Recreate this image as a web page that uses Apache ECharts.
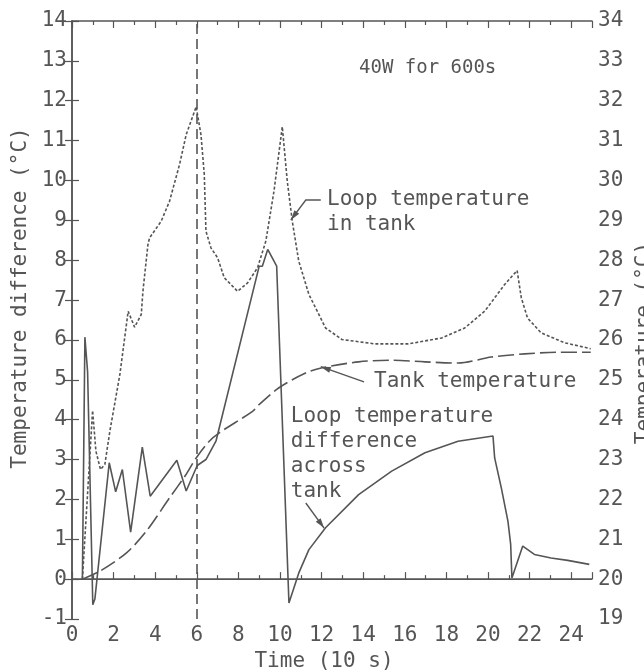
<!DOCTYPE html>
<html>
<head>
<meta charset="utf-8">
<script src="https://cdn.jsdelivr.net/npm/echarts@6/dist/echarts.min.js"></script>
<style>
  html, body { margin: 0; padding: 0; background: #ffffff; }
  #chart { width: 644px; height: 672px; }
</style>
</head>
<body>
<div id="chart"></div>
<script>
// ---- Data ----
// Time axis in units of 10 s
const timeRange = [0, 25];
const diffRange = [-1, 14];      // left axis, temperature difference (°C)
const tempRange = [19, 34];      // right axis, temperature (°C)
const heatOffTime = 6;           // 600 s marker (dashed vertical)
const zeroDiff = 0;              // zero reference line

// Loop temperature difference across tank (left axis, °C)
const diffTime  = [0.5, 0.62, 0.75, 1.0, 1.1, 1.79, 2.1, 2.42, 2.82, 3.38, 3.76, 5.04, 5.49, 6.02, 6.44, 6.92, 9.0, 9.15, 9.41, 9.84, 10.43, 10.9, 11.39, 12.19, 13.78, 15.37, 16.97, 18.56, 20.24, 20.32, 20.64, 20.96, 21.09, 21.15, 21.67, 22.23, 23.03, 23.83, 24.87];
const diffValue = [0, 6.07, 5.2, -0.64, -0.5, 2.92, 2.19, 2.75, 1.18, 3.31, 2.08, 2.98, 2.21, 2.85, 3.0, 3.46, 7.85, 7.85, 8.27, 7.85, -0.6, 0.15, 0.74, 1.29, 2.12, 2.71, 3.17, 3.46, 3.59, 3.04, 2.29, 1.45, 0.87, 0.03, 0.83, 0.62, 0.53, 0.47, 0.37];

// Loop temperature in tank (right axis, °C)
const loopTime = [0.5, 0.99, 1.15, 1.37, 1.58, 1.82, 2.3, 2.7, 3.01, 3.33, 3.41, 3.65, 3.73, 4.29, 4.69, 5.17, 5.49, 5.97, 6.2, 6.36, 6.44, 6.68, 7.0, 7.32, 7.96, 8.44, 8.92, 9.32, 9.71, 10.11, 10.35, 10.59, 10.9, 11.39, 12.19, 12.98, 14.58, 16.17, 17.77, 18.88, 19.84, 20.8, 21.4, 21.6, 21.9, 22.55, 23.67, 24.94];
const loopTemp = [20.0, 24.23, 23.21, 22.75, 22.88, 23.71, 25.13, 26.72, 26.32, 26.64, 27.22, 28.39, 28.56, 28.98, 29.48, 30.4, 31.15, 31.85, 31.15, 30.15, 28.73, 28.31, 28.06, 27.56, 27.22, 27.43, 27.81, 28.48, 29.73, 31.35, 29.98, 28.98, 27.98, 27.14, 26.30, 26.01, 25.9, 25.9, 26.05, 26.30, 26.72, 27.39, 27.74, 27.06, 26.55, 26.18, 25.93, 25.78];

// Tank temperature (right axis, °C)
const tankTime = [0.5, 1.34, 2.62, 3.57, 4.69, 5.49, 5.97, 6.6, 7.08, 8.68, 9.0, 9.95, 11.23, 12.03, 13.78, 15.37, 16.97, 18.56, 20.16, 21.76, 23.35, 24.94];
const tankTemp = [20.0, 20.2, 20.66, 21.2, 22.04, 22.63, 23.04, 23.46, 23.67, 24.21, 24.38, 24.8, 25.17, 25.3, 25.45, 25.49, 25.45, 25.42, 25.57, 25.65, 25.69, 25.69];

// ---- Styling ----
const INK = '#555555';
const FONT = '"DejaVu Sans Mono", "Liberation Mono", monospace';
const FS = 21;

function pairs(xs, ys) { return xs.map((x, i) => [x, ys[i]]); }

const axisCommon = {
  axisLine: { show: true, lineStyle: { color: INK, width: 1.5 } },
  axisTick: { show: true, inside: true, length: 7, lineStyle: { color: INK, width: 1.2 } },
  splitLine: { show: false },
  axisLabel: { color: INK, fontFamily: FONT, fontSize: FS },
  nameTextStyle: { color: INK, fontFamily: FONT, fontSize: FS }
};

const option = {
  backgroundColor: '#ffffff',
  animation: false,
  grid: { left: 72, right: 52, top: 21, bottom: 53, containLabel: false, outerBoundsMode: 'none' },
  xAxis: [
    Object.assign({}, axisCommon, {
      type: 'value', min: timeRange[0], max: timeRange[1], interval: 2,
      position: 'bottom',
      name: 'Time (10 s)', nameLocation: 'middle', nameGap: 31,
      nameTextStyle: { color: INK, fontFamily: FONT, fontSize: FS, padding: [0, 16, 0, 0] },
      axisLabel: { color: INK, fontFamily: FONT, fontSize: FS, margin: 6, showMaxLabel: false },
      minorTick: { show: true, splitNumber: 2, length: 4, lineStyle: { color: INK, width: 1.2 } }
    }),
    Object.assign({}, axisCommon, {
      type: 'value', min: timeRange[0], max: timeRange[1], interval: 2,
      position: 'top',
      axisLabel: { show: false },
      minorTick: { show: true, splitNumber: 2, length: 4, lineStyle: { color: INK, width: 1.2 } }
    })
  ],
  yAxis: [
    Object.assign({}, axisCommon, {
      type: 'value', min: diffRange[0], max: diffRange[1], interval: 1,
      position: 'left',
      name: 'Temperature difference (°C)', nameLocation: 'middle', nameGap: 38, nameRotate: 90,
      nameTextStyle: { color: INK, fontFamily: FONT, fontSize: FS, padding: [0, 0, 0, 44] },
      axisLabel: { color: INK, fontFamily: FONT, fontSize: FS, margin: 5 }
    }),
    Object.assign({}, axisCommon, {
      type: 'value', min: tempRange[0], max: tempRange[1], interval: 1,
      position: 'right',
      name: 'Temperature (°C)', nameLocation: 'middle', nameGap: 36, nameRotate: 90,
      nameTextStyle: { color: INK, fontFamily: FONT, fontSize: FS, padding: [0, 46, 0, 0] },
      axisLabel: { color: INK, fontFamily: FONT, fontSize: FS, margin: 6 }
    })
  ],
  series: [
    {
      name: 'Loop temperature difference across tank', type: 'line',
      xAxisIndex: 0, yAxisIndex: 0,
      data: pairs(diffTime, diffValue),
      showSymbol: false, symbol: 'none',
      lineStyle: { color: INK, width: 1.6 },
      markLine: {
        silent: true, symbol: 'none', label: { show: false },
        data: [
          { xAxis: heatOffTime, lineStyle: { color: INK, width: 1.6, type: [10, 5] } },
          { yAxis: zeroDiff, lineStyle: { color: INK, width: 1.2, type: 'solid' } }
        ]
      },
      z: 3
    },
    {
      name: 'Loop temperature in tank', type: 'line',
      xAxisIndex: 0, yAxisIndex: 1,
      data: pairs(loopTime, loopTemp),
      showSymbol: false, symbol: 'none',
      lineStyle: { color: INK, width: 1.6, type: [3, 2] },
      z: 2
    },
    {
      name: 'Tank temperature', type: 'line',
      xAxisIndex: 0, yAxisIndex: 1,
      data: pairs(tankTime, tankTemp),
      showSymbol: false, symbol: 'none', smooth: 0.3,
      lineStyle: { color: INK, width: 1.6, type: [16, 5] },
      z: 2
    }
  ]
};

const chart = echarts.init(document.getElementById('chart'), null, { renderer: 'canvas' });
chart.setOption(option);

// ---- Annotations (anchored in data coordinates: time, left-axis value) ----
function px(p) { return chart.convertToPixel({ xAxisIndex: 0, yAxisIndex: 0 }, p); }

function textEl(text, anchor, size) {
  const p = px(anchor);
  return {
    type: 'text', x: p[0], y: p[1] - 12.5, silent: true,
    style: { text: text, fill: INK, font: (size || FS) + 'px ' + FONT, textAlign: 'left', textVerticalAlign: 'top', lineHeight: 25 }
  };
}
function leader(points) {
  const pts = points.map(px);
  const els = [{
    type: 'polyline', silent: true,
    shape: { points: pts },
    style: { stroke: INK, lineWidth: 1.4, fill: null }
  }];
  const tip = pts[pts.length - 1], prev = pts[pts.length - 2];
  const dx = tip[0] - prev[0], dy = tip[1] - prev[1];
  const L = Math.sqrt(dx * dx + dy * dy) || 1;
  const ux = dx / L, uy = dy / L;
  const len = 10, hw = 3;
  const bx = tip[0] - ux * len, by = tip[1] - uy * len;
  els.push({
    type: 'polygon', silent: true,
    shape: { points: [tip, [bx - uy * hw, by + ux * hw], [bx + uy * hw, by - ux * hw]] },
    style: { fill: INK }
  });
  return els;
}

const graphics = [].concat(
  [textEl('40W for 600s', [13.8, 12.82], 19)],
  [textEl('Loop temperature\nin tank', [12.26, 9.51])],
  leader([[11.96, 9.51], [11.24, 9.51], [10.52, 9.01]]),
  [textEl('Tank temperature', [14.52, 4.95])],
  leader([[14.04, 4.95], [11.96, 5.33]]),
  [textEl('Loop temperature\ndifference\nacross\ntank', [10.52, 4.08])],
  leader([[11.24, 1.91], [12.12, 1.28]])
);
chart.setOption({ graphic: graphics });
</script>
</body>
</html>
